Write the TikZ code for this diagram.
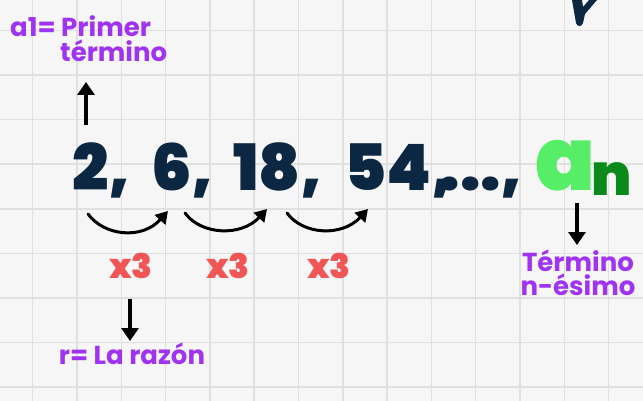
\documentclass[tikz,border=0pt]{standalone}
\usepackage{fontspec}
\setmainfont{Poppins}
\newfontfamily\heavyfont{Poppins Black}
\usetikzlibrary{arrows.meta}
\definecolor{bgc}{HTML}{F6F6F6}
\definecolor{gridc}{HTML}{E0E0E0}
\definecolor{navy}{HTML}{0C2742}
\definecolor{lgreen}{HTML}{55EE66}
\definecolor{dgreen}{HTML}{0A8A1A}
\definecolor{purp}{HTML}{A033F0}
\definecolor{redx}{HTML}{F05656}
\begin{document}
\begin{tikzpicture}[x=1pt,y=-1pt,
  num/.style={inner sep=0pt, anchor=base west, text=navy, font=\heavyfont\fontsize{64}{64}\selectfont},
  lbl/.style={inner sep=0pt, text=purp, font=\bfseries\fontsize{26}{24}\selectfont},
  times/.style={inner sep=0pt, text=redx, font=\heavyfont\fontsize{34}{34}\selectfont},
  straightarr/.style={line width=4pt, -{Triangle[width=17pt,length=13pt]}},
  curvarr/.style={line width=3pt, line cap=round, -{Triangle[width=14pt,length=12pt]}}]
\fill[bgc] (0,0) rectangle (643,401);
\useasboundingbox (0,0) rectangle (643,401);
\foreach \i in {0,...,13} \draw[gridc, line width=1.5pt] ({32.7+44.3*\i},0) -- ({32.7+44.3*\i},401);
\foreach \i in {0,...,8} \draw[gridc, line width=1.5pt] (0,{30.4+44.6*\i}) -- (643,{30.4+44.6*\i});
% partial shape top right
\fill[navy] (572,0) -- (582,0) -- (583,7) -- (589,0) -- (597,0) -- (585,14) -- (583,23) .. controls (582,27) and (577,27) .. (576,23) -- cycle;
% sequence
\node[num] (t2) at (72,190) {2,};
\node[num] (t6) at (151,190) {6,};
\node[num] (t18) at (233,190) {18,};
\node[num] (t54) at (344,190) {54,};
\node[num, anchor=base east] (tdots) at (523,190) {...,};
\node[inner sep=0pt, anchor=base west, text=lgreen, font=\heavyfont\fontsize{88}{88}\selectfont] (ta) at (535,190) {a};
\node[inner sep=0pt, anchor=base west, text=dgreen, font=\heavyfont\fontsize{58}{58}\selectfont] (tn) at (591,196) {n};
% labels
\node[lbl, anchor=base west] (l1a) at (10,37) {a1= Primer};
\node[lbl, anchor=base west] (l1b) at (60,62) {término};
\node[lbl, anchor=base] (lr) at (132,364) {r= La razón};
\node[lbl, anchor=north, align=center] (ln) at (578,250) {Término\\n-ésimo};
\node[times] (x1) at (131,266) {x3};
\node[times] (x2) at (228,266) {x3};
\node[times] (x3) at (329,266) {x3};
% straight arrows
\coordinate (u1s) at (86,125); \coordinate (u1e) at (86,82);
\draw[straightarr] (u1s) -- (u1e);
\coordinate (d1s) at (130,299); \coordinate (d1e) at (130,341);
\draw[straightarr] (d1s) -- (d1e);
\coordinate (d2s) at (577,203); \coordinate (d2e) at (577,245);
\draw[straightarr] (d2s) -- (d2e);
% curved arrows
\coordinate (c1s) at (88,214); \coordinate (c1e) at (168,211);
\draw[curvarr] (c1s) .. controls (104,236) and (142,240) .. (c1e);
\coordinate (c2s) at (185,213); \coordinate (c2e) at (267,209);
\draw[curvarr] (c2s) .. controls (201,235) and (241,237) .. (c2e);
\coordinate (c3s) at (287,213); \coordinate (c3e) at (368,209);
\draw[curvarr] (c3s) .. controls (303,235) and (342,237) .. (c3e);
\end{tikzpicture}
\end{document}
